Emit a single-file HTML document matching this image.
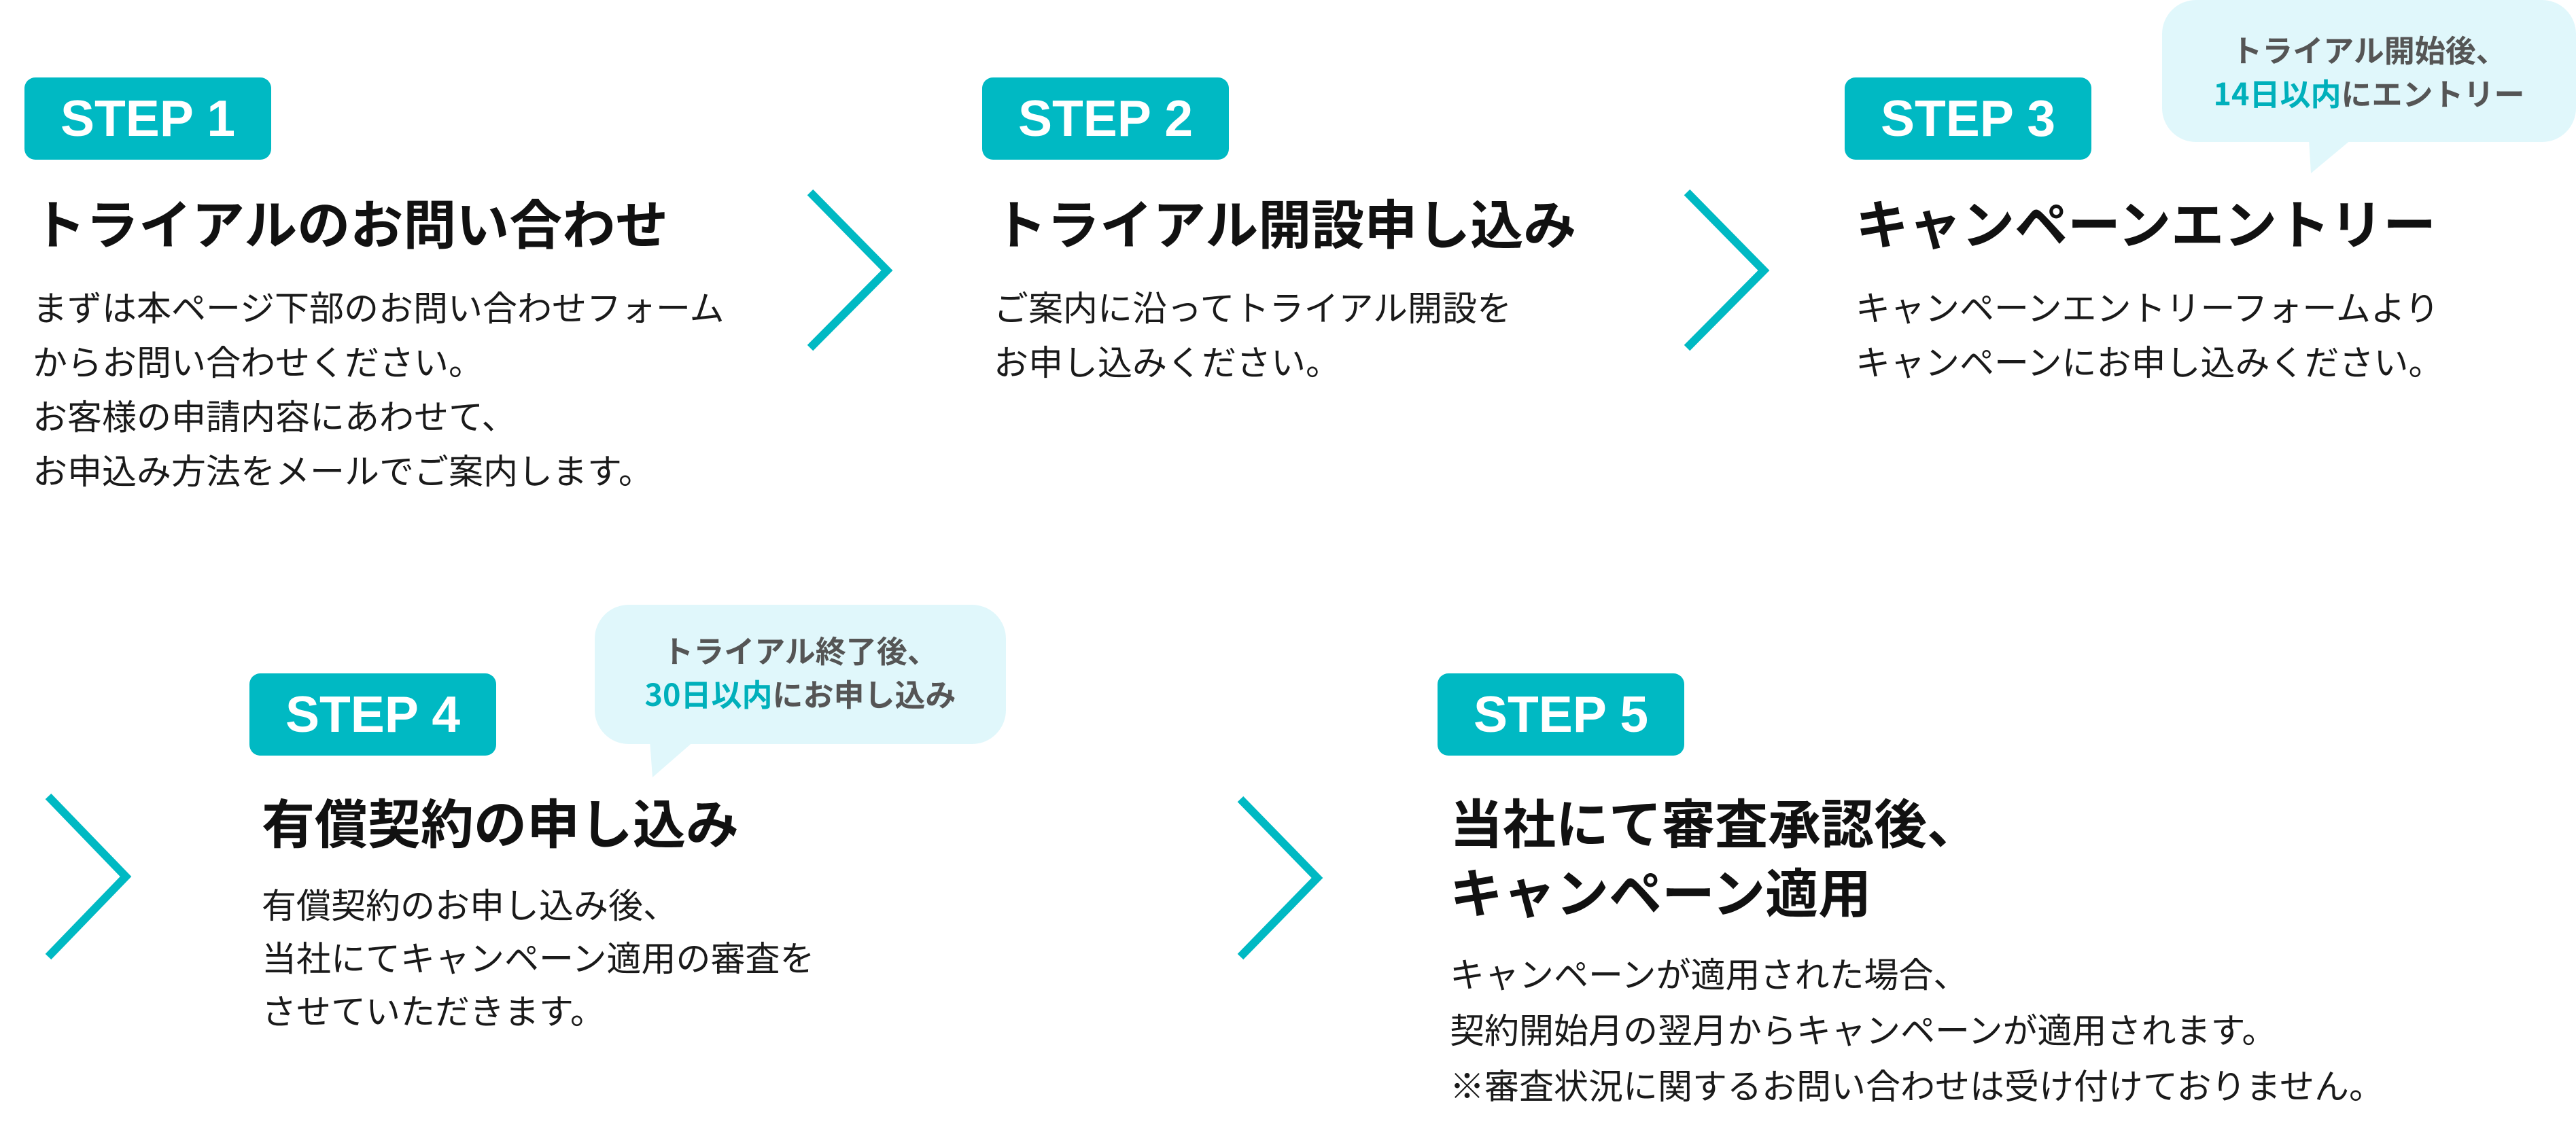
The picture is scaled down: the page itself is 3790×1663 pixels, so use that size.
<!DOCTYPE html>
<html><head><meta charset="utf-8"><style>
body{margin:0;width:3790px;height:1663px;background:#fff;position:relative;overflow:hidden;font-family:"Liberation Sans","Noto Sans CJK JP",sans-serif;color:#111}
.b{position:absolute;background:#00b9c3;border-radius:16px;width:363px;height:121px;color:#fff;font-weight:700;font-size:75px;line-height:121px;text-align:center;font-family:"Liberation Sans",sans-serif}
.t{position:absolute;font-weight:700;font-size:78px;line-height:102px;white-space:nowrap;font-family:"Noto Sans CJK JP",sans-serif}
.d{position:absolute;font-size:51px;line-height:80px;white-space:nowrap;font-family:"Noto Sans CJK JP",sans-serif;color:#1a1a1a}
.q{position:absolute;text-align:center;font-weight:700;font-size:45px;line-height:64px;color:#555;font-family:"Noto Sans CJK JP",sans-serif;white-space:nowrap}
.q span{color:#00b0bb}
svg{position:absolute;left:0;top:0}
</style></head><body>
<svg width="3790" height="1663">
<g fill="#e0f7fb">
<rect x="3181" y="0" width="609" height="209" rx="50"/>
<polygon points="3397,205 3460,205 3400,255"/>
<rect x="875" y="890" width="605" height="205" rx="50"/>
<polygon points="956,1090 1022,1090 960,1144"/>
</g>
<g fill="none" stroke="#00b9c3" stroke-width="12">
<polyline points="1192,283 1305,398 1192,512"/>
<polyline points="2482,283 2595,398 2482,512"/>
<polyline points="71,1172 185,1290 71,1408"/>
<polyline points="1825,1176 1938,1292 1825,1408"/>
</g>
</svg>
<div class="q" style="left:3181px;width:609px;top:40px">トライアル開始後、<br><span>14日以内</span>にエントリー</div>
<div class="q" style="left:875px;width:605px;top:924px">トライアル終了後、<br><span>30日以内</span>にお申し込み</div>

<div class="b" style="left:36px;top:114px">STEP 1</div>
<div class="t" style="left:48px;top:275px">トライアルのお問い合わせ</div>
<div class="d" style="left:48px;top:410px">まずは本ページ下部のお問い合わせフォーム<br>からお問い合わせください。<br>お客様の申請内容にあわせて、<br>お申込み方法をメールでご案内します。</div>

<div class="b" style="left:1445px;top:114px">STEP 2</div>
<div class="t" style="left:1462px;top:275px">トライアル開設申し込み</div>
<div class="d" style="left:1462px;top:410px">ご案内に沿ってトライアル開設を<br>お申し込みください。</div>

<div class="b" style="left:2714px;top:114px">STEP 3</div>
<div class="t" style="left:2730px;top:275px">キャンペーンエントリー</div>
<div class="d" style="left:2730px;top:410px">キャンペーンエントリーフォームより<br>キャンペーンにお申し込みください。</div>

<div class="b" style="left:367px;top:991px">STEP 4</div>
<div class="t" style="left:385px;top:1157px">有償契約の申し込み</div>
<div class="d" style="left:385px;top:1290px;line-height:78px">有償契約のお申し込み後、<br>当社にてキャンペーン適用の審査を<br>させていただきます。</div>

<div class="b" style="left:2115px;top:991px">STEP 5</div>
<div class="t" style="left:2133px;top:1157px">当社にて審査承認後、<br>キャンペーン適用</div>
<div class="d" style="left:2133px;top:1390px;line-height:82px">キャンペーンが適用された場合、<br>契約開始月の翌月からキャンペーンが適用されます。<br>※審査状況に関するお問い合わせは受け付けておりません。</div>
</body></html>
